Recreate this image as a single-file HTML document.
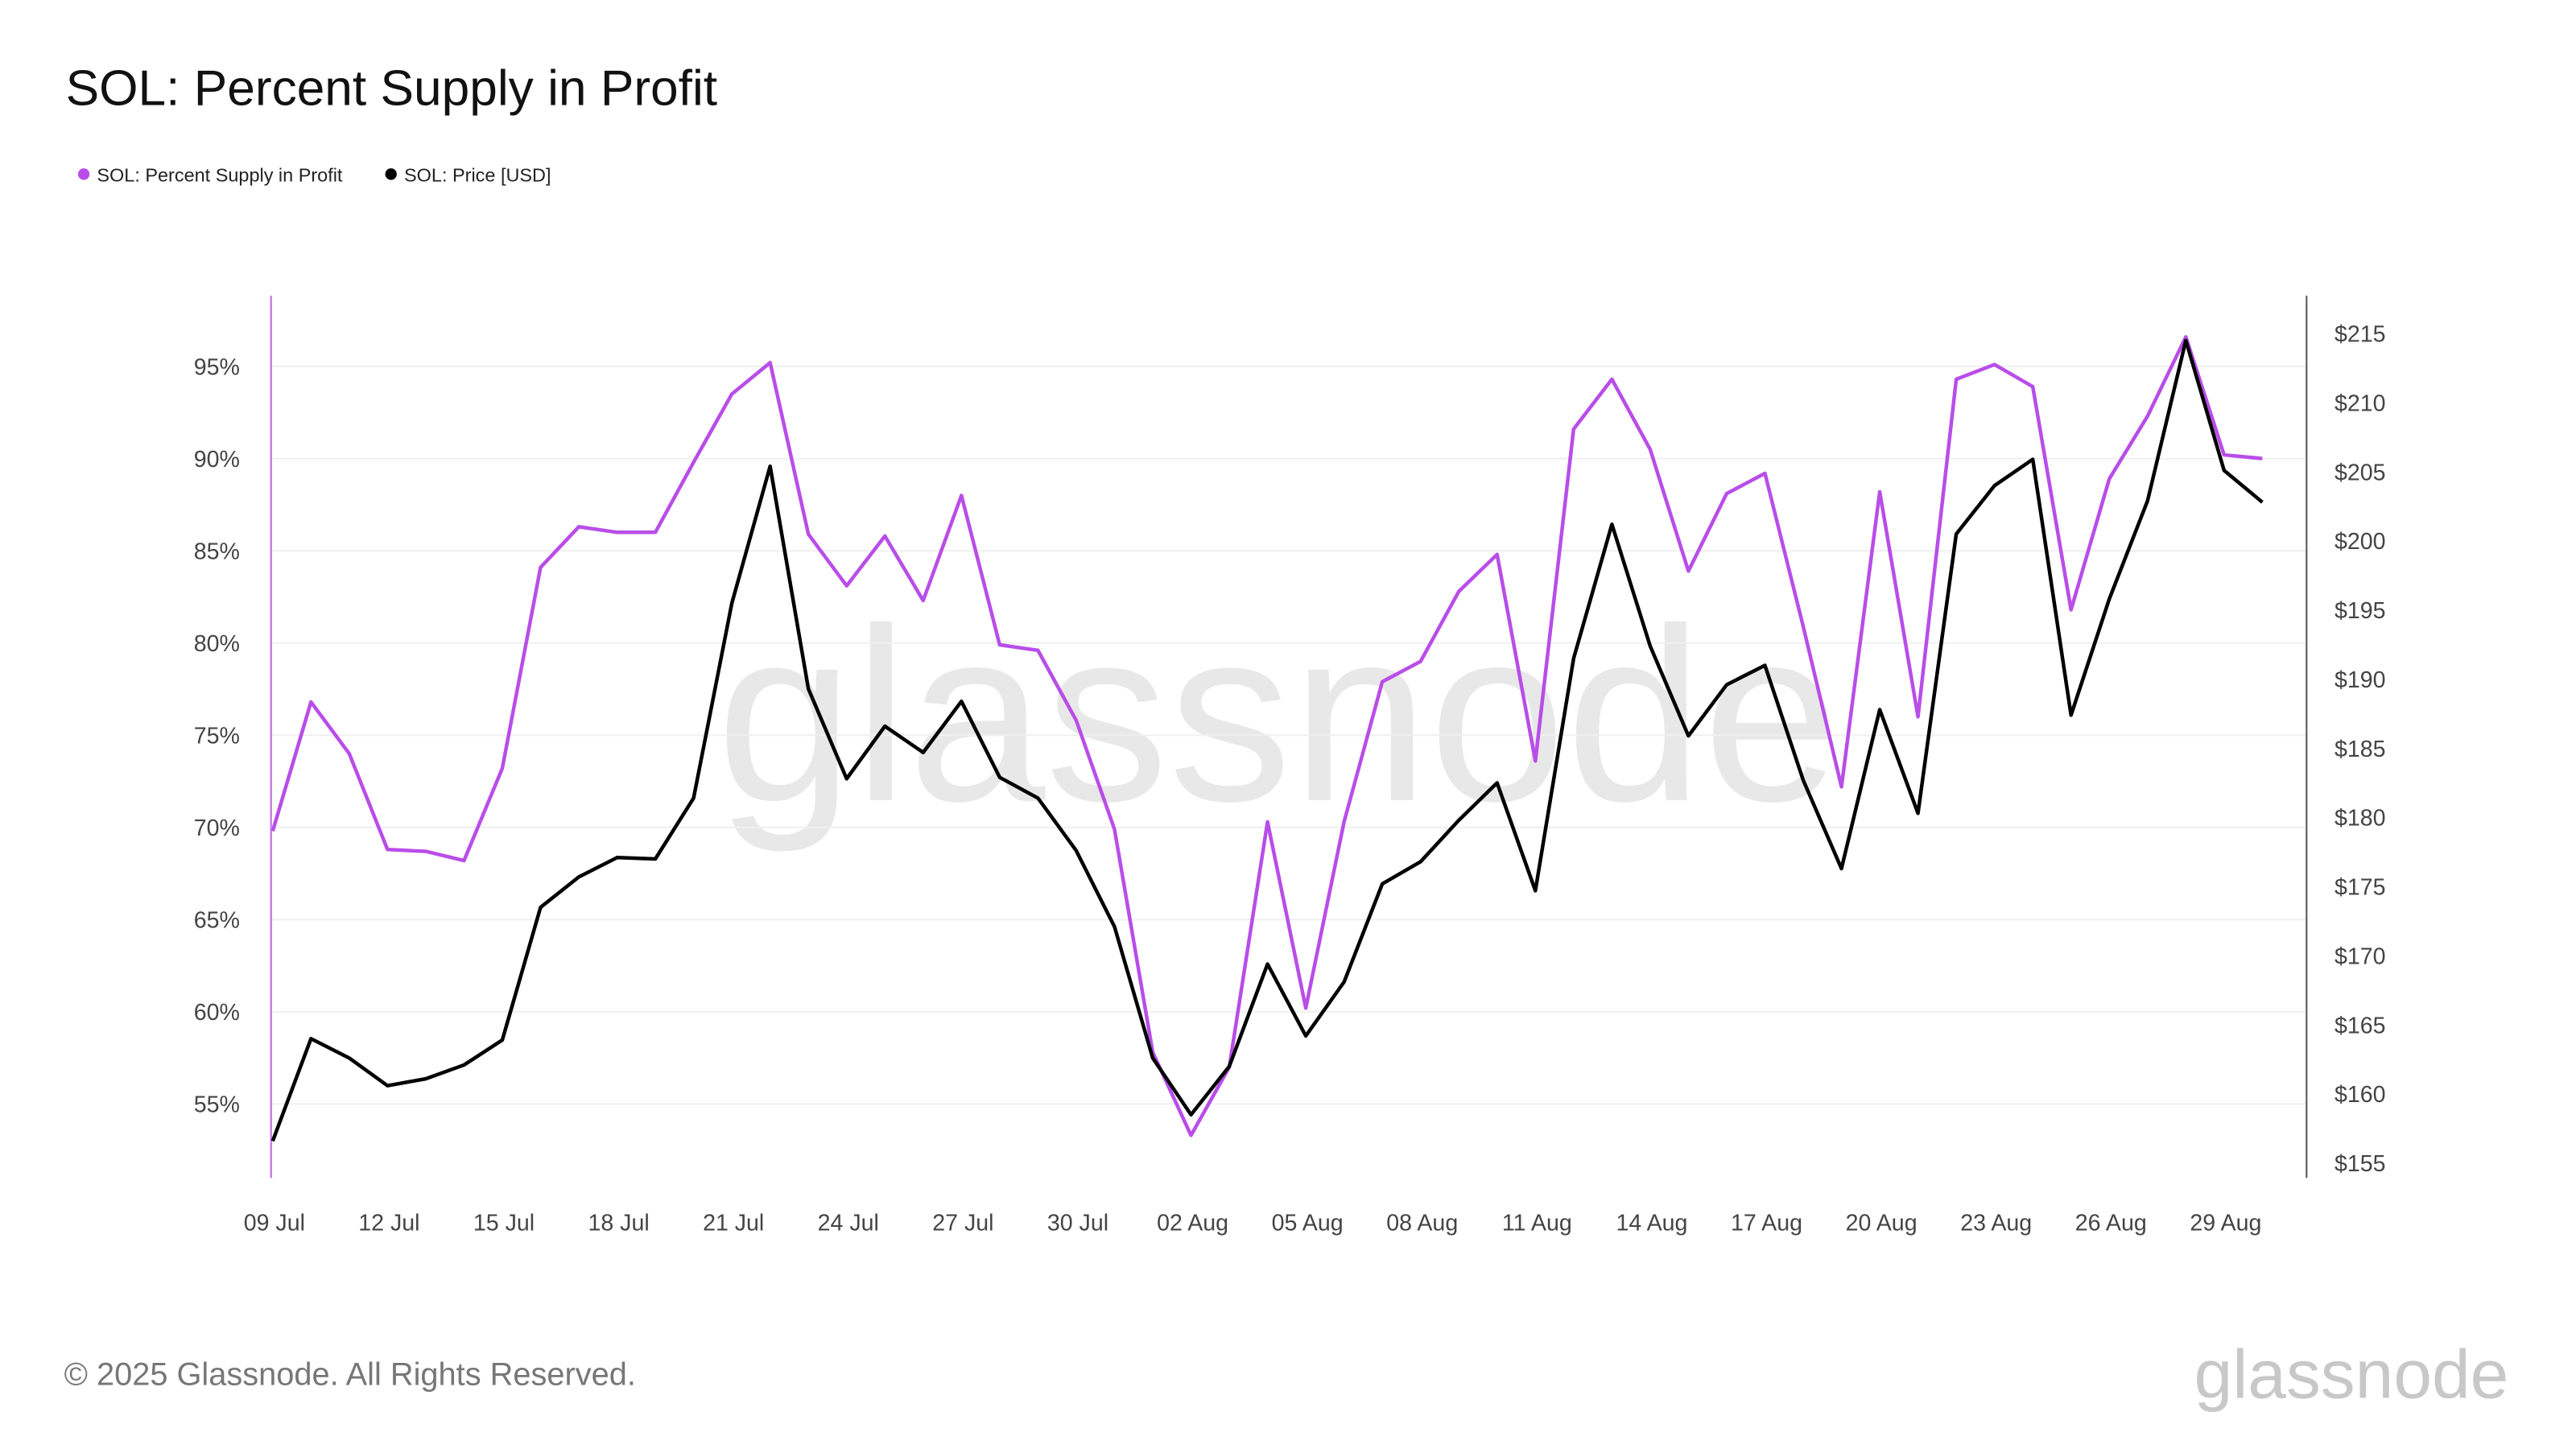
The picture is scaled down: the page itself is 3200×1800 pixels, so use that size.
<!DOCTYPE html>
<html><head><meta charset="utf-8">
<style>
html,body{margin:0;padding:0;background:#fff;}
svg{display:block;font-family:"Liberation Sans",sans-serif;}
</style></head>
<body>
<svg id="chart" width="3200" height="1800" viewBox="0 0 1568 882" preserveAspectRatio="none" xmlns="http://www.w3.org/2000/svg">
<rect width="1568" height="882" fill="#fff"/>
<text x="40" y="64" font-size="30.5" fill="#111">SOL: Percent Supply in Profit</text>
<g>
<g><circle cx="51" cy="106" r="3.5" fill="#b94de8"/><text x="59" y="110.5" font-size="11.5" fill="#222">SOL: Percent Supply in Profit</text></g>
<g><circle cx="238" cy="106" r="3.5" fill="#000"/><text x="246" y="110.5" font-size="11.5" fill="#222">SOL: Price [USD]</text></g>
</g>
<text x="778" y="487" font-size="150" fill="#e4e4e4" text-anchor="middle" opacity="0.85">glassnode</text>
<g id="grid"></g>
<g id="axes"></g>
<g id="series"></g>
<text x="39" y="843" font-size="19.5" fill="#777">© 2025 Glassnode. All Rights Reserved.</text>
<text x="1527" y="851" font-size="42" fill="#c8c8c8" text-anchor="end">glassnode</text>
</svg>
<script>
const xLabels = ["09 Jul","12 Jul","15 Jul","18 Jul","21 Jul","24 Jul","27 Jul","30 Jul","02 Aug","05 Aug","08 Aug","11 Aug","14 Aug","17 Aug","20 Aug","23 Aug","26 Aug","29 Aug"];
const leftTicks = [55,60,65,70,75,80,85,90,95];
const rightTicks = [155,160,165,170,175,180,185,190,195,200,205,210,215];
const profitPct = [69.8,76.8,74.0,68.8,68.7,68.2,73.2,84.1,86.3,86.0,86.0,89.8,93.5,95.2,85.9,83.1,85.8,82.3,88.0,79.9,79.6,75.8,69.9,57.8,53.3,57.0,70.3,60.2,70.3,77.9,79.0,82.8,84.8,73.6,91.6,94.3,90.5,83.9,88.1,89.2,80.9,72.2,88.2,76.0,94.3,95.1,93.9,81.8,88.9,92.3,96.6,90.2,90.0];
const priceUsd = [156.6,164.0,162.6,160.6,161.1,162.1,163.9,173.5,175.7,177.1,177.0,181.4,195.5,205.4,189.3,182.8,186.6,184.7,188.4,182.9,181.4,177.6,172.1,162.6,158.5,162.0,169.4,164.2,168.1,175.2,176.8,179.8,182.5,174.7,191.5,201.2,192.4,185.9,189.6,191.0,182.7,176.3,187.8,180.3,200.5,204.0,205.9,187.4,195.8,202.9,214.5,205.1,202.8];

const NS="http://www.w3.org/2000/svg";
const X0=166, DX=23.29, PL=165, PR=1404, PT=180, PB=717;
const xPos=i=>X0+DX*i;
const yL=v=>672-(v-55)*(449/40);
const yR=v=>708-(v-155)*(505/60);
function mk(tag,attrs,parent){const e=document.createElementNS(NS,tag);for(const k in attrs)e.setAttribute(k,attrs[k]);parent.appendChild(e);return e;}
const grid=document.getElementById('grid'),axes=document.getElementById('axes'),series=document.getElementById('series');

leftTicks.forEach(v=>{
  const l=mk('line',{x1:PL,x2:PR,y1:yL(v),y2:yL(v),stroke:'#f0f0f0','stroke-width':1},grid);
  
  
  const t=mk('text',{x:146,y:yL(v)+5,'font-size':14,fill:'#444','text-anchor':'end'},axes);
  t.textContent=v+'%';
  
  
});
rightTicks.forEach(v=>{
  const t=mk('text',{x:1421,y:yR(v)+5,'font-size':14,fill:'#444'},axes);
  t.textContent='$'+v;
  
  
});
xLabels.forEach((s,k)=>{
  const t=mk('text',{x:xPos(k*3)+1,y:749,'font-size':14,fill:'#444','text-anchor':'middle'},axes);
  t.textContent=s;
  
  
});
const la=mk('line',{x1:PL,x2:PL,y1:PT,y2:PB,stroke:'#c77ef0','stroke-width':1.2},axes);


const ra=mk('line',{x1:PR,x2:PR,y1:PT,y2:PB,stroke:'#555','stroke-width':1},axes);



const p1=mk('polyline',{points:profitPct.map((v,i)=>xPos(i)+','+yL(v)).join(' '),fill:'none',stroke:'#b94de8','stroke-width':2.2,'stroke-linejoin':'round'},series);


const p2=mk('polyline',{points:priceUsd.map((v,i)=>xPos(i)+','+yR(v)).join(' '),fill:'none',stroke:'#000','stroke-width':2.2,'stroke-linejoin':'round'},series);


</script>
</body></html>
